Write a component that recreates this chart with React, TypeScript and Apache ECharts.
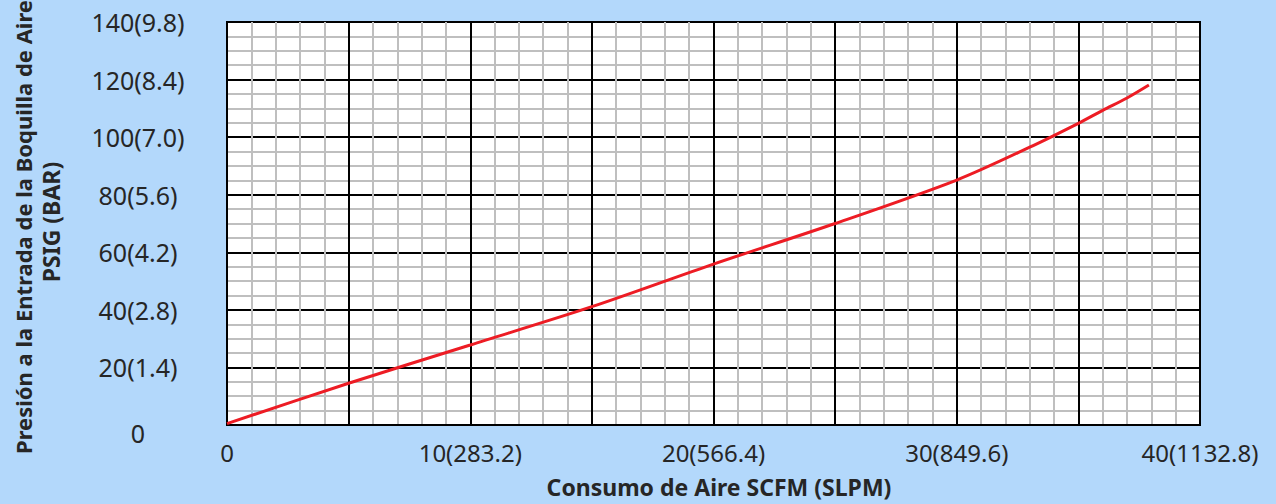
import React, { useEffect, useRef } from "react";
import * as echarts from "echarts";

// Curve: air consumption (SCFM) vs nozzle inlet pressure (PSIG)
const scfm = [0, 5, 10, 15, 20, 25, 30, 33, 35, 36, 37, 37.9];
const psig = [0.5, 14.5, 27.8, 41.1, 55.9, 70.0, 85.1, 96.5, 104.8, 109.3, 113.6, 118.1];

const xTickValues = [0, 10, 20, 30, 40];
const xTickLabels = ["0", "10(283.2)", "20(566.4)", "30(849.6)", "40(1132.8)"];
const yTickValues = [0, 20, 40, 60, 80, 100, 120, 140];
const yTickLabels = ["0", "20(1.4)", "40(2.8)", "60(4.2)", "80(5.6)", "100(7.0)", "120(8.4)", "140(9.8)"];

const xTitle = "Consumo de Aire SCFM (SLPM)";
const yTitle1 = "Presión a la Entrada de la Boquilla de Aire";
const yTitle2 = "PSIG (BAR)";

const FONT = "'Noto Sans', sans-serif";

export default function App() {
  const ref = useRef<HTMLDivElement>(null);

  useEffect(() => {
    if (!ref.current) return;
    const chart = echarts.init(ref.current, null, { renderer: "svg" });
    const data = scfm.map((x, i) => [x, psig[i]]);
    chart.setOption({
      animation: false,
      backgroundColor: "#b3d8fb",
      grid: {
        left: 227,
        top: 22,
        width: 973,
        height: 403,
        show: true,
        backgroundColor: "#ffffff",
        borderColor: "#000",
        borderWidth: 2,
      },
      xAxis: {
        type: "value",
        min: 0,
        max: 40,
        interval: 5,
        axisLine: { show: true, onZero: false, lineStyle: { color: "#000", width: 2 } },
        axisTick: { show: false },
        axisLabel: {
          margin: 15,
          fontFamily: FONT,
          fontSize: 24,
          color: "#262626",
          showMaxLabel: true,
          formatter: (v: number) => {
            const i = xTickValues.indexOf(v);
            return i >= 0 ? xTickLabels[i] : "";
          },
        },
        splitLine: { show: true, lineStyle: { color: "#000", width: 2 } },
        minorTick: { show: false, splitNumber: 5 },
        minorSplitLine: { show: true, lineStyle: { color: "#bfbfbf", width: 2 } },
      },
      yAxis: {
        type: "value",
        min: 0,
        max: 140,
        interval: 20,
        axisLine: { show: true, onZero: false, lineStyle: { color: "#000", width: 2 } },
        axisTick: { show: false },
        axisLabel: {
          margin: 89,
          align: "center",
          fontFamily: FONT,
          fontSize: 25,
          color: "#262626",
          formatter: (v: number) => {
            const i = yTickValues.indexOf(v);
            if (i < 0) return "";
            return v === 0 ? "{z|" + yTickLabels[i] + "}" : yTickLabels[i];
          },
          rich: {
            z: { fontFamily: FONT, fontSize: 25, color: "#262626", padding: [16, 0, 0, 0] },
          },
        },
        splitLine: { show: true, lineStyle: { color: "#000", width: 2 } },
        minorTick: { show: false, splitNumber: 4 },
        minorSplitLine: { show: true, lineStyle: { color: "#bfbfbf", width: 2 } },
      },
      graphic: [
        {
          type: "text",
          x: 719,
          y: 487,
          style: {
            text: xTitle,
            fontFamily: FONT,
            fontWeight: "bold",
            fontSize: 23,
            fill: "#262626",
            textAlign: "center",
            textVerticalAlign: "middle",
          },
        },
        {
          type: "text",
          x: 23,
          y: 227,
          rotation: Math.PI / 2,
          style: {
            text: yTitle1,
            fontFamily: FONT,
            fontWeight: "bold",
            fontSize: 22,
            fill: "#262626",
            textAlign: "center",
            textVerticalAlign: "middle",
          },
        },
        {
          type: "text",
          x: 51,
          y: 222,
          rotation: Math.PI / 2,
          style: {
            text: yTitle2,
            fontFamily: FONT,
            fontWeight: "bold",
            fontSize: 23,
            fill: "#262626",
            textAlign: "center",
            textVerticalAlign: "middle",
          },
        },
      ],
      series: [
        {
          type: "line",
          data,
          smooth: 0.3,
          showSymbol: false,
          symbol: "none",
          lineStyle: { color: "#ed1c24", width: 3 },
          z: 5,
        },
      ],
    });
    return () => chart.dispose();
  }, []);

  return (
    <div
      ref={ref}
      style={{ position: "fixed", left: 0, top: 0, width: 1276, height: 504 }}
    />
  );
}
